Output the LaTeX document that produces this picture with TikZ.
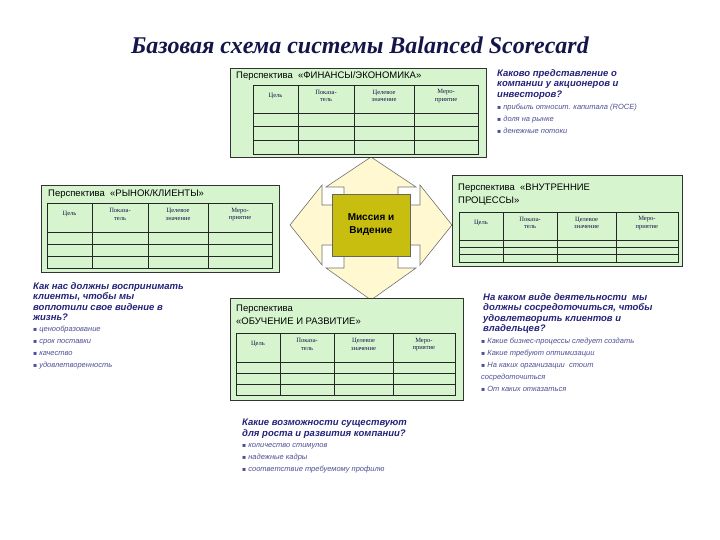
\documentclass[tikz,border=0pt]{standalone}
\usepackage{fontspec}
\setmainfont{Liberation Sans}
\newfontfamily\serifb{Liberation Serif}
\newfontfamily\dv{DejaVu Sans}
\definecolor{boxg}{HTML}{D6F5CF}
\definecolor{navy}{HTML}{23237A}
\definecolor{olive}{HTML}{C8BE10}
\definecolor{arrowy}{HTML}{FFF8D0}
\tikzset{
  pbox/.style={draw=black!80, fill=boxg, line width=0.7pt},
  tab/.style={draw=black!85, line width=0.6pt},
  th/.style={font=\serifb\fontsize{6.5}{7.5}\selectfont, align=center, text=navy!60!black},
  ttl/.style={anchor=north west, font=\fontsize{9.5}{13}\selectfont, align=left, inner sep=0},
  q/.style={anchor=north west, font=\bfseries\itshape\fontsize{9.5}{10.5}\selectfont, text=navy, align=left, inner sep=0},
  bl/.style={anchor=north west, font=\itshape\fontsize{7.5}{12}\selectfont, text=navy!80, align=left, inner sep=0},
}
\newcommand\bl{{\dv\fontsize{6}{6}\selectfont ▪}~}
\newcommand\bsctab[6]{%
  \pgfmathsetmacro\ca{#2+0.2*(#4-#2)}%
  \pgfmathsetmacro\cb{#2+0.449*(#4-#2)}%
  \pgfmathsetmacro\cc{#2+0.716*(#4-#2)}%
  \pgfmathsetmacro\ra{#5+(#6-#5)/3}%
  \pgfmathsetmacro\rb{#5+2*(#6-#5)/3}%
  \pgfmathsetmacro\hy{(#3+#5)/2-3}%
  \draw[tab] (#2,#3) rectangle (#4,#6);
  \draw[tab] (\ca,#3) -- (\ca,#6) (\cb,#3) -- (\cb,#6) (\cc,#3) -- (\cc,#6)
    (#2,#5) -- (#4,#5) (#2,\ra) -- (#4,\ra) (#2,\rb) -- (#4,\rb);
  \node[th] (#1h1) at ({(#2+\ca)/2},\hy) {Цель};
  \node[th] (#1h2) at ({(\ca+\cb)/2},\hy) {Показа-\\тель};
  \node[th] (#1h3) at ({(\cb+\cc)/2},\hy) {Целевое\\значение};
  \node[th] (#1h4) at ({(\cc+#4)/2},\hy) {Меро-\\приятие};
}
\begin{document}
\begin{tikzpicture}[x=1pt,y=-1pt]
\path[fill=white,use as bounding box] (0,0) rectangle (720,540);
\node[font=\serifb\bfseries\itshape\fontsize{24}{28}\selectfont, text=navy!60!black] (title) at (360,45) {Базовая схема системы Balanced Scorecard};
% cross arrow
\draw[fill=arrowy, draw=black!55, line width=0.6pt]
 (344,205) -- (344,187) -- (326,187) -- (371,157) -- (416,187) -- (398,187) -- (398,205)
 -- (420,205) -- (420,185) -- (452,225) -- (420,265) -- (420,245) -- (398,245)
 -- (398,268) -- (416,268) -- (371,300) -- (326,268) -- (344,268) -- (344,245)
 -- (322,245) -- (322,265) -- (290,225) -- (322,185) -- (322,205) -- cycle;
\node[draw=black!60, fill=olive, minimum width=78, minimum height=62, align=center,
  font=\bfseries\fontsize{10}{13}\selectfont] (mission) at (371,225) {Миссия и\\Видение};
% finance
\draw[pbox] (230,68) rectangle (486,157);
\node[ttl] (fint) at (236,71) {Перспектива \ «ФИНАНСЫ/ЭКОНОМИКА»};
\bsctab{fin}{253}{85}{478}{113}{154}
% market
\draw[pbox] (41,185) rectangle (279,272);
\node[ttl] (mkt) at (48,189) {Перспектива \ «РЫНОК/КЛИЕНТЫ»};
\bsctab{mk}{47}{203}{272}{232}{268}
% internal
\draw[pbox] (452,175) rectangle (682,266);
\node[ttl] (intt) at (458,184) {Перспектива \ «ВНУТРЕННИЕ\\ПРОЦЕССЫ»};
\bsctab{in}{459}{212}{678}{240}{262}
% learning
\draw[pbox] (230,298) rectangle (463,400);
\node[ttl] (lrn) at (236,305) {Перспектива\\«ОБУЧЕНИЕ И РАЗВИТИЕ»};
\bsctab{lr}{236}{333}{455}{362}{395}
% questions
\node[q] (qf) at (497,69) {Каково представление о\\компании у акционеров и\\инвесторов?};
\node[bl] (bf) at (497,104) {\bl прибыль относит. капитала (ROCE)\\\bl доля на рынке\\\bl денежные потоки};
\node[q] (qm) at (33,282) {Как нас должны воспринимать\\клиенты, чтобы мы\\воплотили свое видение в\\жизнь?};
\node[bl] (bm) at (33,326) {\bl ценообразование\\\bl срок поставки\\\bl качество\\\bl удовлетворенность};
\node[q] (qi) at (483,293) {На каком виде деятельности \ мы\\должны сосредоточиться, чтобы\\удовлетворить клиентов и\\владельцев?};
\node[bl] (bi) at (481,338) {\bl Какие бизнес-процессы следует создать\\\bl Какие требуют оптимизации\\\bl На каких организации \ стоит\\сосредоточиться\\\bl От каких отказаться};
\node[q] (ql) at (242,419) {Какие возможности существуют\\для роста и развития компании?};
\node[bl] (bll) at (242,443) {\bl количество стимулов\\\bl надежные кадры\\\bl соответствие требуемому профилю};
\end{tikzpicture}
\end{document}
